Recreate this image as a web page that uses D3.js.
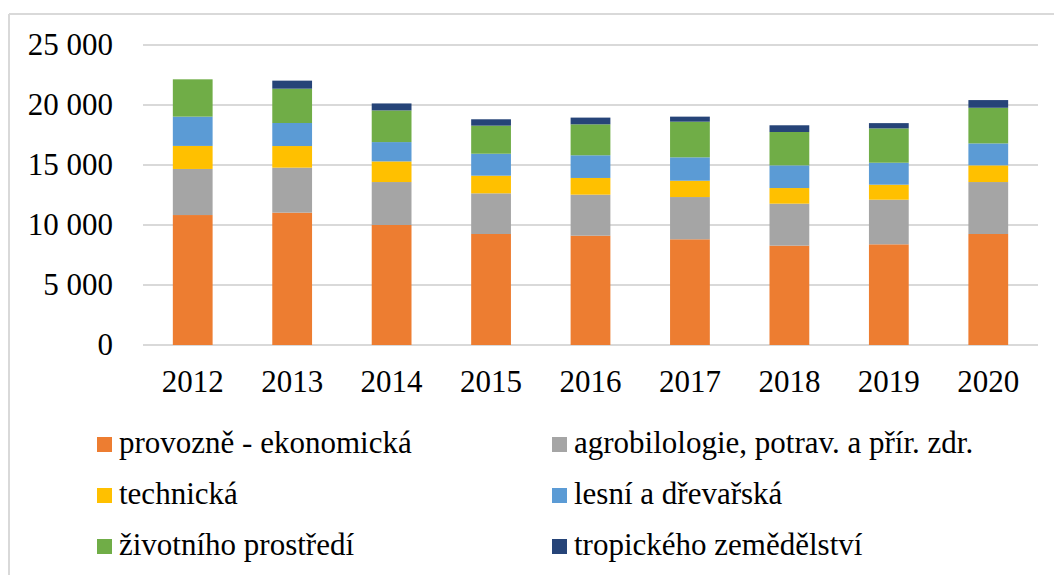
<!DOCTYPE html>
<html>
<head>
<meta charset="utf-8">
<script src="https://cdn.jsdelivr.net/npm/d3@7"></script>
<style>
  html, body { margin: 0; padding: 0; background: #fff; }
  svg, svg text { font-family: 'Times New Roman', 'Liberation Serif', Tinos, serif; }
</style>
</head>
<body>
<svg id="chart" width="1054" height="575" font-family="Times New Roman"></svg>
<script>
const years = ["2012", "2013", "2014", "2015", "2016", "2017", "2018", "2019", "2020"];
const seriesNames = [
  "provozně - ekonomická",
  "agrobilologie, potrav. a přír. zdr.",
  "technická",
  "lesní a dřevařská",
  "životního prostředí",
  "tropického zemědělství"
];
const provozne   = [10830, 11030, 10000, 9250, 9110, 8810, 8280, 8390, 9250];
const agrobio    = [3840, 3750, 3580, 3390, 3420, 3520, 3500, 3720, 4330];
const technicka  = [1920, 1800, 1720, 1470, 1390, 1360, 1300, 1250, 1390];
const lesni      = [2440, 1920, 1610, 1830, 1890, 1950, 1890, 1830, 1830];
const zivotni    = [3110, 2860, 2640, 2340, 2580, 2970, 2780, 2860, 2970];
const tropicke   = [0, 670, 580, 530, 560, 420, 560, 440, 640];
const yTicks = [0, 5000, 10000, 15000, 20000, 25000];
const colors = ["#ED7D31", "#A5A5A5", "#FFC000", "#5B9BD5", "#70AD47", "#264478"];

const seriesValues = [provozne, agrobio, technicka, lesni, zivotni, tropicke];
const keys = seriesNames;
const table = years.map((y, i) => {
  const row = { year: y };
  keys.forEach((k, j) => row[k] = seriesValues[j][i]);
  return row;
});

const FONT = "'Times New Roman'";
const FS = "31px";
const svg = d3.select("#chart");

svg.append("line").attr("x1", 9).attr("x2", 1054).attr("y1", 14).attr("y2", 14)
  .attr("stroke", "#d9d9d9").attr("stroke-width", 2);
svg.append("line").attr("x1", 9).attr("x2", 9).attr("y1", 14).attr("y2", 575)
  .attr("stroke", "#d9d9d9").attr("stroke-width", 2);

const x = d3.scaleBand().domain(years).range([143, 1038]).paddingInner(0.6).paddingOuter(0.3);
const y = d3.scaleLinear().domain([0, 25000]).range([345, 45]);

const fmt = v => d3.format(",")(v).replace(/,/g, " ");

svg.append("g").selectAll("line").data(yTicks).join("line")
  .attr("x1", 143).attr("x2", 1038)
  .attr("y1", d => y(d)).attr("y2", d => y(d))
  .attr("stroke", "#d9d9d9").attr("stroke-width", 2);

const yAxis = d3.axisLeft(y).tickValues(yTicks).tickFormat(fmt).tickSize(0).tickPadding(0);
const gy = svg.append("g").attr("transform", "translate(113,0)").call(yAxis);
gy.attr("font-family", "Times New Roman").attr("font-size", 31);
gy.select(".domain").remove();
gy.selectAll("text").attr("font-family", "Times New Roman").style("font-family", FONT).style("font-size", FS).attr("fill", "#000").attr("dy", "0.32em");

const stacked = d3.stack().keys(keys)(table);
svg.append("g").selectAll("g").data(stacked).join("g")
  .attr("fill", (d, i) => colors[i])
  .selectAll("rect").data(d => d).join("rect")
  .attr("x", d => x(d.data.year))
  .attr("width", x.bandwidth())
  .attr("y", d => y(d[1]))
  .attr("height", d => Math.max(0, y(d[0]) - y(d[1])));

const xAxis = d3.axisBottom(x).tickSize(0).tickPadding(0);
const gx = svg.append("g").attr("transform", "translate(0,370)").call(xAxis);
gx.attr("font-family", "Times New Roman").attr("font-size", 31);
gx.select(".domain").remove();
gx.selectAll("text").attr("font-family", "Times New Roman").style("font-family", FONT).style("font-size", FS).attr("fill", "#000").attr("dy", "0.71em");

const legendCols = [97, 552];
const legendRows = [453, 504, 555];
seriesNames.forEach((name, i) => {
  const cx = legendCols[i % 2];
  const by = legendRows[Math.floor(i / 2)];
  svg.append("rect").attr("x", cx).attr("y", by - 16).attr("width", 15).attr("height", 15).attr("fill", colors[i]);
  svg.append("text").attr("x", cx + 22).attr("y", by)
    .attr("font-family", "Times New Roman")
    .style("font-family", FONT).style("font-size", FS).attr("fill", "#000").text(name);
});
</script>
</body>
</html>
